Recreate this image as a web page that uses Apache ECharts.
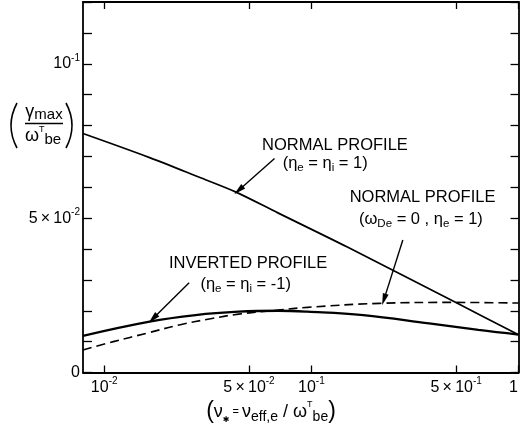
<!DOCTYPE html>
<html><head><meta charset="utf-8">
<script src="https://cdn.jsdelivr.net/npm/echarts@6/dist/echarts.min.js"></script>
<style>html,body{margin:0;padding:0;background:#fff}#c{width:531px;height:431px}</style>
</head><body><div id="c"></div>
<script>
// ---- axis ranges & ticks ----
const xMin = 0.0079, xMax = 1;
const yMin = 0, yMax = 0.12, yStep = 0.01;
const xTickValues = [0.01, 0.05, 0.1, 0.5, 1];
const xTickLabels = ['{n|10}{s|-2}', '{n|5\u2009×\u200910}{s|-2}', '{n|10}{s|-1}', '{n|5\u2009×\u200910}{s|-1}', '{one|1}'];
const yLabelValues = [0, 0.05, 0.1];
const yTickLabels = ['{n|0}', '{n|5\u2009×\u200910}{s|-2}', '{n|10}{s|-1}'];

// ---- series data (x = nu_*, y = gamma_max / omega^T_be) ----
const normalX = [0.0079, 0.01656, 0.0286, 0.0430, 0.0689, 0.1484, 0.5067, 1];
const normalY = [0.0774, 0.0696, 0.0633, 0.0585, 0.0517, 0.0407, 0.0224, 0.0122];

const invertedX = [0.0079, 0.01656, 0.0276, 0.0445, 0.0689, 0.0957, 0.178, 0.370, 0.640, 1];
const invertedY = [0.0119, 0.0165, 0.0186, 0.0197, 0.0200, 0.0197, 0.0186, 0.0159, 0.0138, 0.0123];

const noDriftX = [0.0079, 0.01107, 0.0160, 0.0230, 0.0331, 0.0445, 0.0689, 0.0957, 0.214, 0.5, 1];
const noDriftY = [0.0073, 0.0100, 0.0127, 0.0154, 0.0175, 0.0189, 0.0202, 0.0211, 0.0224, 0.0227, 0.0225];

// ---- annotations (data coordinates) ----
const annoTexts = [
  '{t|NORMAL PROFILE}',
  '{t|(η}{sub|e}{t| = η}{sub|i}{t| = 1)}',
  '{t|NORMAL PROFILE}',
  '{t|(ω}{sub|De}{t| = 0 , η}{sub|e}{t| = 1)}',
  '{t|INVERTED PROFILE}',
  '{t|(η}{sub|e}{t| = η}{sub|i}{t| = -1)}'
];
const annoX = [0.130, 0.1166, 0.344, 0.3378, 0.0495, 0.0482];
const annoY = [0.0736, 0.0678, 0.0566, 0.0497, 0.0353, 0.0286];
const arrowFrom = [[0.0664, 0.0693], [0.2763, 0.0429], [0.0257, 0.0291]];
const arrowTo   = [[0.0446, 0.0590], [0.2240, 0.0236], [0.0172, 0.0175]];

const FONT = 'Liberation Sans';
const L = Math.log10;
const pts = (xs, ys) => xs.map((x, i) => [L(x), ys[i]]);

const tickRich = {
  n: {fontFamily: FONT, fontSize: 16, color: '#000', lineHeight: 22, verticalAlign: 'middle'},
  s: {fontFamily: FONT, fontSize: 10, color: '#000', lineHeight: 10, verticalAlign: 'top'},
  one: {fontFamily: FONT, fontSize: 16, color: '#000', lineHeight: 22, padding: [0, 10, 0, 0]}
};
const annoRich = {
  t: {fontFamily: FONT, fontSize: 16.5, color: '#000', lineHeight: 22, verticalAlign: 'middle'},
  sub: {fontFamily: FONT, fontSize: 11.5, color: '#000', lineHeight: 11, verticalAlign: 'bottom'}
};

const chart = echarts.init(document.getElementById('c'), null, {renderer: 'canvas'});
const xLog = xTickValues.map(L);
const AXW = 1.8;

chart.setOption({
  animation: false,
  backgroundColor: '#fff',
  grid: {left: 83, right: 7, top: 2, bottom: 58.5, containLabel: false},
  xAxis: [{
    type: 'value', position: 'bottom', min: L(xMin), max: L(xMax),
    axisLine: {onZero: false, lineStyle: {color: '#000', width: AXW}},
    axisTick: {inside: true, length: 7, customValues: xLog, lineStyle: {color: '#000', width: 1.3}},
    axisLabel: {customValues: xLog, margin: 4, rich: tickRich,
      formatter: v => { const i = xLog.findIndex(t => Math.abs(t - v) < 1e-6); return i >= 0 ? xTickLabels[i] : ''; }},
    splitLine: {show: false}
  }, {
    type: 'value', position: 'top', min: L(xMin), max: L(xMax),
    axisLine: {onZero: false, lineStyle: {color: '#000', width: AXW}},
    axisTick: {inside: true, length: 7, customValues: xLog, lineStyle: {color: '#000', width: 1.3}},
    axisLabel: {show: false}, splitLine: {show: false}
  }],
  yAxis: [{
    type: 'value', position: 'left', min: yMin, max: yMax, interval: yStep,
    axisLine: {onZero: false, lineStyle: {color: '#000', width: AXW}},
    axisTick: {inside: true, length: 9, lineStyle: {color: '#000', width: 1.3}},
    axisLabel: {margin: 3, rich: tickRich,
      formatter: v => { const i = yLabelValues.findIndex(t => Math.abs(t - v) < 1e-9); return i >= 0 ? yTickLabels[i] : ''; }},
    splitLine: {show: false}
  }, {
    type: 'value', position: 'right', min: yMin, max: yMax, interval: yStep,
    axisLine: {onZero: false, lineStyle: {color: '#000', width: AXW}},
    axisTick: {inside: true, length: 8, lineStyle: {color: '#000', width: 1.3}},
    axisLabel: {show: false}, splitLine: {show: false}
  }],
  series: [{
    name: 'Normal profile', type: 'line', data: pts(normalX, normalY), symbol: 'none',
    smooth: 0.3, lineStyle: {color: '#000', width: 1.7},
    markPoint: {
      symbol: 'rect', symbolSize: 1, itemStyle: {color: 'rgba(0,0,0,0)'},
      label: {show: true, position: 'inside', rich: annoRich, formatter: p => p.data.txt},
      data: annoTexts.map((t, i) => ({coord: [L(annoX[i]), annoY[i]], txt: t}))
    },
    markLine: {
      silent: true, symbol: ['none', 'triangle'], label: {show: false},
      lineStyle: {color: '#000', width: 1.4, type: 'solid'},
      data: arrowFrom.map((f, i) => [
        {coord: [L(f[0]), f[1]], symbol: 'none'},
        {coord: [L(arrowTo[i][0]), arrowTo[i][1]], symbol: 'triangle', symbolSize: [6, 12]}
      ])
    }
  }, {
    name: 'Inverted profile', type: 'line', data: pts(invertedX, invertedY), symbol: 'none',
    smooth: 0.4, lineStyle: {color: '#000', width: 2.3}
  }, {
    name: 'Normal profile, omega_De = 0', type: 'line', data: pts(noDriftX, noDriftY), symbol: 'none',
    smooth: 0.4, lineStyle: {color: '#000', width: 1.6, type: [9, 5]}
  }],
  graphic: [
    {type: 'bezierCurve', shape: {x1: 17, y1: 103, x2: 17, y2: 148, cpx1: 5, cpy1: 125.5},
     style: {stroke: '#000', lineWidth: 1.6, fill: null}},
    {type: 'bezierCurve', shape: {x1: 66, y1: 103, x2: 66, y2: 148, cpx1: 78, cpy1: 125.5},
     style: {stroke: '#000', lineWidth: 1.6, fill: null}},
    {type: 'line', shape: {x1: 25, y1: 123.5, x2: 63, y2: 123.5}, style: {stroke: '#000', lineWidth: 1.3}},
    {type: 'text', x: 44, y: 112, style: {
      text: '{g|γ}{m|max}', align: 'center', verticalAlign: 'middle',
      rich: {g: {fontFamily: FONT, fontSize: 18, lineHeight: 20, fill: '#000', verticalAlign: 'middle'},
             m: {fontFamily: FONT, fontSize: 15, lineHeight: 15, fill: '#000', verticalAlign: 'bottom'}}}},
    {type: 'text', x: 43, y: 136, style: {
      text: '{g|ω}{sup|T}{sub|be}', align: 'center', verticalAlign: 'middle',
      rich: {g: {fontFamily: FONT, fontSize: 18, lineHeight: 22, fill: '#000', verticalAlign: 'middle'},
             sup: {fontFamily: FONT, fontSize: 9, lineHeight: 9, fill: '#000', verticalAlign: 'top'},
             sub: {fontFamily: FONT, fontSize: 15, lineHeight: 15, fill: '#000', verticalAlign: 'bottom'}}}},
    {type: 'text', x: 271, y: 412, style: {
      text: '{p|(}{g|ν}{ast|✱}{eq| = }{g|ν}{sub|eff,e}{g| / ω}{sup|T}{sub|be}{p|)}',
      align: 'center', verticalAlign: 'middle',
      rich: {p: {fontFamily: FONT, fontSize: 23, lineHeight: 24, fill: '#000', verticalAlign: 'middle'},
             g: {fontFamily: FONT, fontSize: 18, lineHeight: 24, fill: '#000', verticalAlign: 'middle'},
             ast: {fontFamily: 'DejaVu Sans', fontSize: 8, lineHeight: 10, fill: '#000', verticalAlign: 'bottom'},
             eq: {fontFamily: FONT, fontSize: 11, lineHeight: 24, fill: '#000', verticalAlign: 'middle'},
             sup: {fontFamily: FONT, fontSize: 9, lineHeight: 9, fill: '#000', verticalAlign: 'top'},
             sub: {fontFamily: FONT, fontSize: 14, lineHeight: 14, fill: '#000', verticalAlign: 'bottom'}}}}
  ]
});
</script></body></html>
